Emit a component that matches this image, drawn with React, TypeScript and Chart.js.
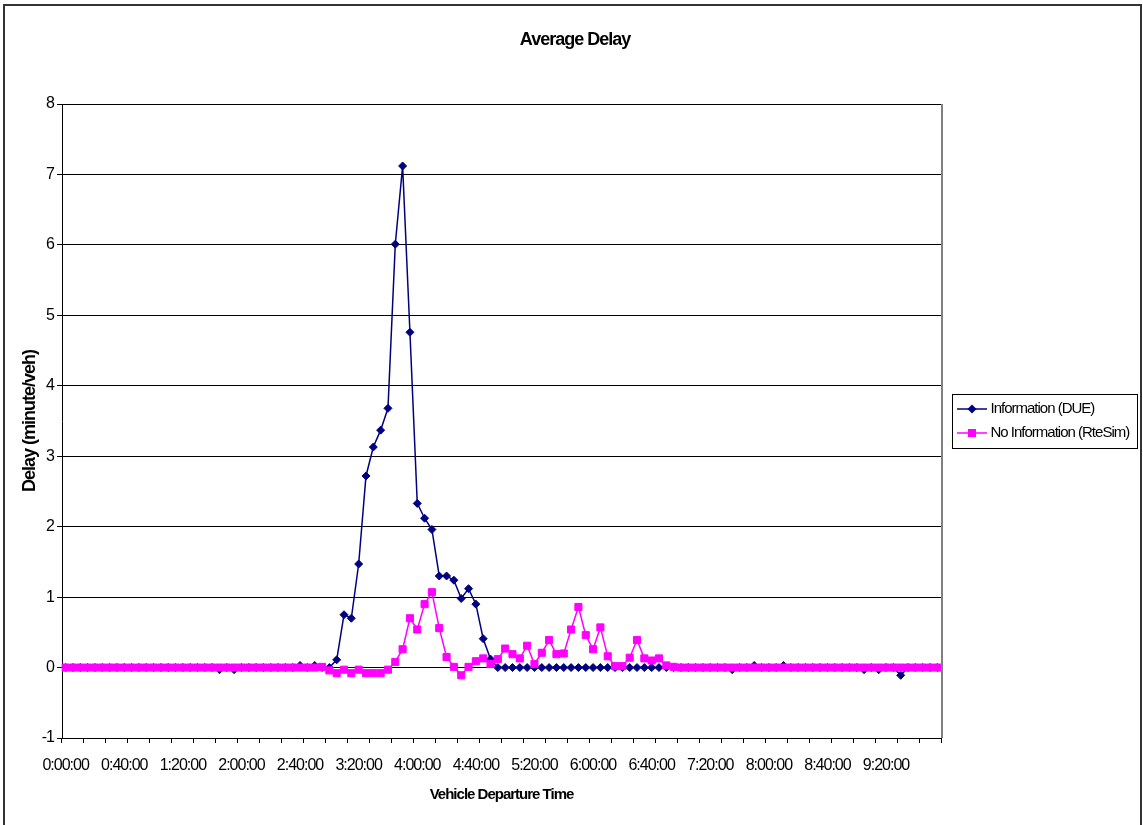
import React, { useEffect, useRef } from 'react';
import { Chart, registerables } from 'chart.js';

Chart.register(...registerables);

// Departure-time categories (5-minute bins)
const categories: string[] = [
  '0:00:00', '0:05:00', '0:10:00', '0:15:00', '0:20:00', '0:25:00', '0:30:00', '0:35:00', '0:40:00', '0:45:00', '0:50:00', '0:55:00',
  '1:00:00', '1:05:00', '1:10:00', '1:15:00', '1:20:00', '1:25:00', '1:30:00', '1:35:00', '1:40:00', '1:45:00', '1:50:00', '1:55:00',
  '2:00:00', '2:05:00', '2:10:00', '2:15:00', '2:20:00', '2:25:00', '2:30:00', '2:35:00', '2:40:00', '2:45:00', '2:50:00', '2:55:00',
  '3:00:00', '3:05:00', '3:10:00', '3:15:00', '3:20:00', '3:25:00', '3:30:00', '3:35:00', '3:40:00', '3:45:00', '3:50:00', '3:55:00',
  '4:00:00', '4:05:00', '4:10:00', '4:15:00', '4:20:00', '4:25:00', '4:30:00', '4:35:00', '4:40:00', '4:45:00', '4:50:00', '4:55:00',
  '5:00:00', '5:05:00', '5:10:00', '5:15:00', '5:20:00', '5:25:00', '5:30:00', '5:35:00', '5:40:00', '5:45:00', '5:50:00', '5:55:00',
  '6:00:00', '6:05:00', '6:10:00', '6:15:00', '6:20:00', '6:25:00', '6:30:00', '6:35:00', '6:40:00', '6:45:00', '6:50:00', '6:55:00',
  '7:00:00', '7:05:00', '7:10:00', '7:15:00', '7:20:00', '7:25:00', '7:30:00', '7:35:00', '7:40:00', '7:45:00', '7:50:00', '7:55:00',
  '8:00:00', '8:05:00', '8:10:00', '8:15:00', '8:20:00', '8:25:00', '8:30:00', '8:35:00', '8:40:00', '8:45:00', '8:50:00', '8:55:00',
  '9:00:00', '9:05:00', '9:10:00', '9:15:00', '9:20:00', '9:25:00', '9:30:00', '9:35:00', '9:40:00', '9:45:00', '9:50:00', '9:55:00',
];

// Information (DUE) average delay, minute/veh
const informationDUE: number[] = [
  0, 0, 0, 0, 0, 0, 0, 0, 0, 0, 0, 0,
  0, 0, 0, 0, 0, 0, 0, 0, 0, -0.03, 0, -0.03,
  0, 0, 0, 0, 0, 0, 0, 0, 0.03, 0, 0.03, 0,
  0, 0.11, 0.75, 0.70, 1.47, 2.72, 3.13, 3.37, 3.68, 6.01, 7.12, 4.76,
  2.33, 2.12, 1.96, 1.30, 1.30, 1.24, 0.98, 1.12, 0.90, 0.41, 0.12, 0,
  0, 0, 0, 0, 0, 0, 0, 0, 0, 0, 0, 0,
  0, 0, 0, 0, 0, 0, 0, 0, 0, 0, 0, 0,
  0, 0, 0, 0, 0, 0, 0, -0.03, 0, 0, 0.03, 0,
  0, 0, 0.03, 0, 0, 0, 0, 0, 0, 0, 0, 0,
  0, -0.03, 0, -0.03, 0, 0, -0.11, 0, 0, 0, 0, 0,
];

// No Information (RteSim) average delay, minute/veh
const noInformationRteSim: number[] = [
  0, 0, 0, 0, 0, 0, 0, 0, 0, 0, 0, 0,
  0, 0, 0, 0, 0, 0, 0, 0, 0, 0, 0, 0,
  0, 0, 0, 0, 0, 0, 0, 0, 0, 0, 0, 0.01,
  -0.04, -0.08, -0.03, -0.08, -0.03, -0.08, -0.08, -0.08, -0.03, 0.08, 0.26, 0.70,
  0.54, 0.90, 1.07, 0.56, 0.15, 0.01, -0.11, 0.01, 0.09, 0.13, 0.05, 0.12,
  0.27, 0.19, 0.13, 0.31, 0.05, 0.21, 0.39, 0.19, 0.20, 0.54, 0.86, 0.46,
  0.26, 0.57, 0.16, 0.02, 0.02, 0.14, 0.39, 0.13, 0.10, 0.13, 0.03, 0.01,
  0, 0, 0, 0, 0, 0, 0, 0, 0, 0, 0, 0,
  0, 0, 0, 0, 0, 0, 0, 0, 0, 0, 0, 0,
  0, 0, 0, 0, 0, 0, 0, 0, 0, 0, 0, 0,
];

const seriesNames = ['Information (DUE)', 'No Information (RteSim)'];
const seriesColors = ['#000080', '#FF00FF'];
const chartTitle = 'Average Delay';
const xAxisTitle = 'Vehicle Departure Time';
const yAxisTitle = 'Delay (minute/veh)';
const yMin = -1;
const yMax = 8;
const yStep = 1;
const xLabelEvery = 8;
const xTickEvery = 3;

const FONT = '"Liberation Sans", Arial, Helvetica, sans-serif';

const spacingPlugin = {
  id: 'letterSpacing',
  beforeUpdate(chart: any) { chart.ctx.letterSpacing = '-1px'; },
  beforeLayout(chart: any) { chart.ctx.letterSpacing = '-1px'; },
  beforeDraw(chart: any) { chart.ctx.letterSpacing = '-1px'; },
};

const decorPlugin = {
  id: 'decor',
  afterDraw(chart: any) {
    const ctx: CanvasRenderingContext2D = chart.ctx;
    const ca = chart.chartArea;
    ctx.save();
    ctx.letterSpacing = '-1px';
    // outer chart border
    ctx.strokeStyle = '#333333';
    ctx.lineWidth = 2;
    ctx.strokeRect(4, 5, 1137, 840);
    // plot area right border
    ctx.strokeStyle = '#808080';
    ctx.lineWidth = 2;
    ctx.beginPath();
    ctx.moveTo(ca.right + 1, ca.top);
    ctx.lineTo(ca.right + 1, ca.bottom);
    ctx.stroke();
    // title
    ctx.fillStyle = '#000';
    ctx.font = `bold 18px ${FONT}`;
    ctx.textAlign = 'center';
    ctx.textBaseline = 'middle';
    ctx.fillText(chartTitle, 575, 40);
    // legend
    const lx = 952.5, ly = 394.5, lw = 185, lh = 54;
    ctx.strokeStyle = '#000';
    ctx.lineWidth = 1;
    ctx.strokeRect(lx, ly, lw, lh);
    const rows = [409, 433];
    ctx.font = `15px ${FONT}`;
    ctx.textAlign = 'left';
    chart.data.datasets.forEach((ds: any, i: number) => {
      const y = rows[i];
      ctx.strokeStyle = ds.borderColor;
      ctx.lineWidth = 1.5;
      ctx.beginPath();
      ctx.moveTo(957, y);
      ctx.lineTo(987, y);
      ctx.stroke();
      ctx.fillStyle = ds.backgroundColor;
      ctx.beginPath();
      if (ds.pointStyle === 'rectRot') {
        ctx.moveTo(972 - 4.5, y);
        ctx.lineTo(972, y - 4.5);
        ctx.lineTo(972 + 4.5, y);
        ctx.lineTo(972, y + 4.5);
        ctx.closePath();
      } else {
        ctx.rect(972 - 4, y - 4, 8, 8);
      }
      ctx.fill();
      ctx.fillStyle = '#000';
      ctx.fillText(ds.label, 990.5, y);
    });
    ctx.restore();
  },
};

export default function App() {
  const canvasRef = useRef<HTMLCanvasElement | null>(null);

  useEffect(() => {
    const canvas = canvasRef.current;
    if (!canvas) return;
    Chart.defaults.font.family = FONT;
    Chart.defaults.color = '#000';
    const chart = new Chart(canvas, {
      type: 'line',
      data: {
        labels: categories,
        datasets: [
          {
            label: seriesNames[0],
            data: informationDUE,
            borderColor: seriesColors[0],
            backgroundColor: seriesColors[0],
            pointStyle: 'rectRot',
            pointRadius: 4,
            pointBorderWidth: 1,
            borderWidth: 1.5,
            tension: 0,
            order: 1,
          },
          {
            label: seriesNames[1],
            data: noInformationRteSim,
            borderColor: seriesColors[1],
            backgroundColor: seriesColors[1],
            pointStyle: 'rect',
            pointRadius: 5,
            pointBorderWidth: 1,
            borderWidth: 1.5,
            tension: 0,
            order: 0,
          },
        ],
      },
      options: {
        animation: false,
        responsive: false,
        devicePixelRatio: 1,
        layout: { padding: { left: 0, right: 202, top: 104, bottom: 0 } },
        plugins: {
          legend: { display: false },
          title: { display: false },
          tooltip: { enabled: false },
        },
        scales: {
          x: {
            type: 'category',
            offset: true,
            afterFit(scale: any) { scale.height = 87; },
            grid: {
              offset: true,
              drawOnChartArea: false,
              drawTicks: true,
              tickLength: 5,
              tickColor: (c: any) => (c.index === undefined || c.index % xTickEvery === 0 ? '#000' : 'rgba(0,0,0,0)'),
              color: '#000',
            },
            border: { display: true, color: '#000', width: 1 },
            ticks: {
              autoSkip: false,
              maxRotation: 0,
              minRotation: 0,
              padding: 13,
              color: '#000',
              font: { size: 16, family: FONT },
              callback: (_v: any, i: number) => (i % xLabelEvery === 0 ? categories[i] : ''),
            },
            title: {
              display: true,
              text: xAxisTitle,
              color: '#000',
              font: { size: 15, weight: 'bold', family: FONT },
              padding: { top: 0, bottom: 21 },
            },
          },
          y: {
            min: yMin,
            max: yMax,
            afterFit(scale: any) { scale.width = 62; },
            grid: {
              color: '#000',
              lineWidth: 1,
              drawTicks: true,
              tickLength: 5,
              tickColor: '#000',
            },
            border: { display: true, color: '#000', width: 1 },
            ticks: {
              stepSize: yStep,
              padding: 3,
              color: '#000',
              font: { size: 16, family: FONT },
            },
            title: {
              display: true,
              text: yAxisTitle,
              color: '#000',
              font: { size: 18, weight: 'bold', family: FONT },
              padding: { top: 19, bottom: 0 },
            },
          },
        },
      },
      plugins: [spacingPlugin, decorPlugin],
    } as any);
    return () => chart.destroy();
  }, []);

  return (
    <div style={{ position: 'absolute', left: 0, top: 0, width: 1143, height: 825, background: '#fff' }}>
      <canvas ref={canvasRef} width={1143} height={825} style={{ display: 'block', width: 1143, height: 825 }} />
    </div>
  );
}
